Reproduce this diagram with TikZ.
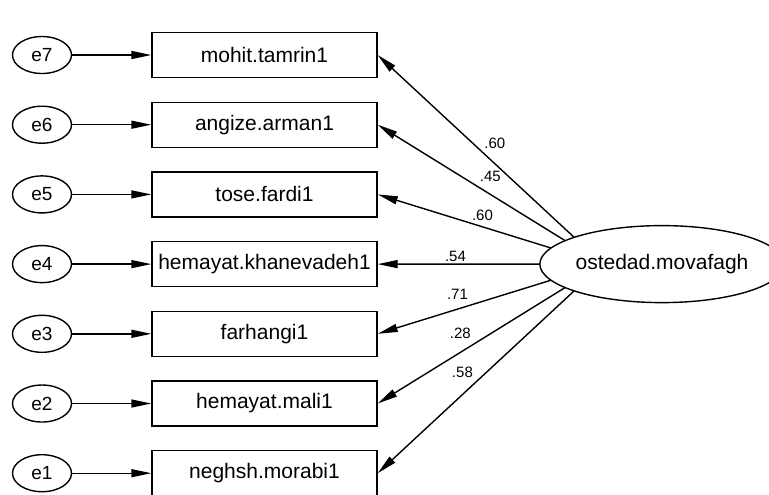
\documentclass[tikz,border=0pt]{standalone}
\usepackage{fontspec}
\setmainfont{Liberation Sans}
\usetikzlibrary{arrows.meta}
\usetikzlibrary{shapes.geometric}

\tikzset{
  obs/.style={draw, line width=0.7pt, minimum width=112.5pt, minimum height=22.5pt,
    inner sep=0pt, font=\fontsize{10.5}{12}\selectfont},
  err/.style={draw, ellipse, line width=0.7pt, minimum width=29.5pt, minimum height=18.5pt,
    inner sep=0pt, font=\fontsize{9.5}{11}\selectfont},
  factor/.style={draw, ellipse, fill=white, line width=0.7pt, minimum width=105pt,
    minimum height=38.5pt, inner sep=0pt, font=\fontsize{10.5}{12}\selectfont},
  load/.style={line width=0.7pt, -{Triangle[length=10pt, width=4pt]}},
  coef/.style={inner sep=0pt, font=\fontsize{7.5}{9}\selectfont}
}

\begin{document}
\begin{tikzpicture}[x=0.5pt, y=-0.5pt]
  \useasboundingbox (0,0) rectangle (769,494);

  % Errores y variables observadas
  \foreach \i/\txt in {7/mohit.tamrin1, 6/angize.arman1, 5/tose.fardi1,
      4/hemayat.khanevadeh1, 3/farhangi1, 2/hemayat.mali1, 1/neghsh.morabi1} {
    \pgfmathsetmacro\yy{55+69.7*(7-\i)}
    \node[err] (e\i) at (42,\yy) {e\i};
    \node[obs] (v\i) at (264.5,\yy) {\txt};
    \draw[load] (e\i) -- (v\i);
  }

  % Cargas factoriales
  \coordinate (hub) at (603,264.1);
  \foreach \i/\val/\p/\d in {7/.60/0.48/7.3pt, 6/.45/0.50/5.8pt, 5/.60/0.535/2.8pt,
      4/.54/0.655/0.8pt, 3/.71/0.646/4.3pt, 2/.28/0.633/6.3pt, 1/.58/0.624/8.3pt} {
    \draw[load] (hub) -- (v\i.east) node[coef, pos=\p, above=\d] {\val};
  }

  % Variable latente
  \node[factor] (ostad) at (662,264.1) {ostedad.movafagh};
\end{tikzpicture}
\end{document}
